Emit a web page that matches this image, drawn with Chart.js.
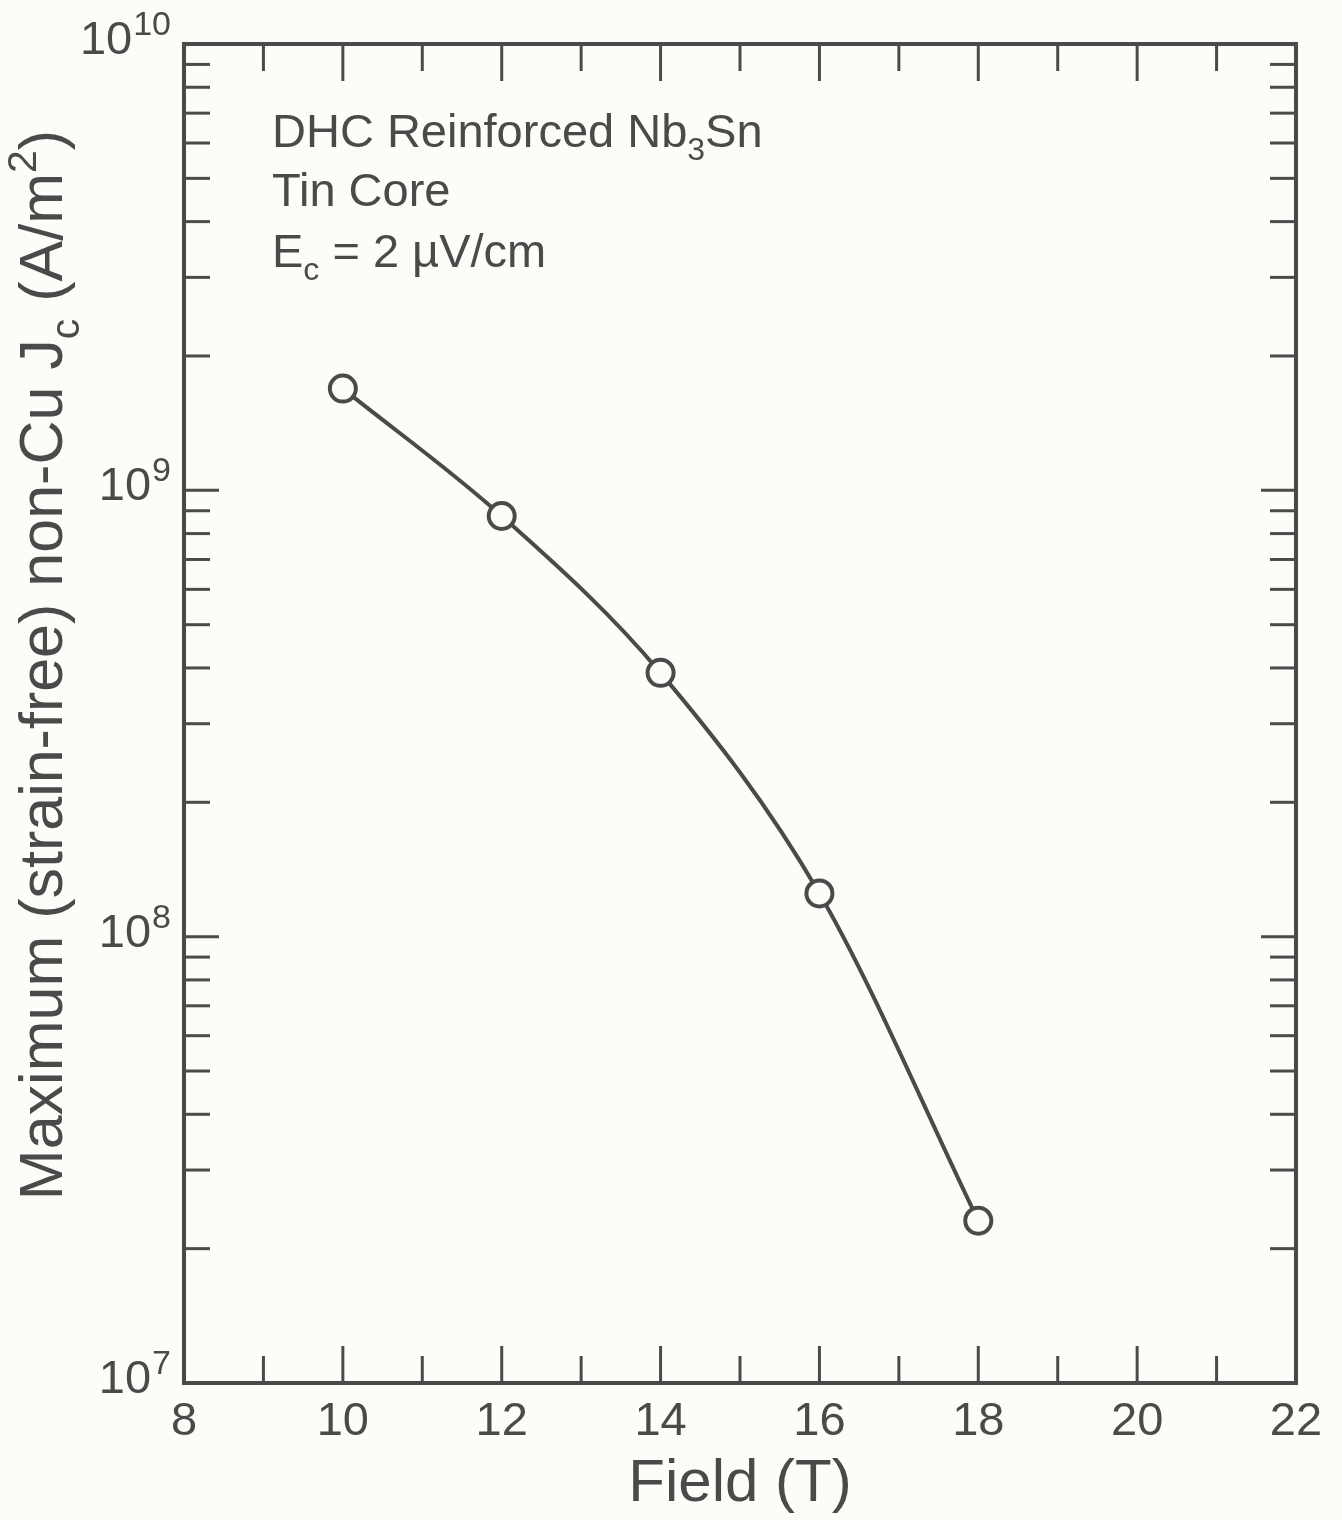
<!DOCTYPE html>
<html>
<head>
<meta charset="utf-8">
<script src="https://cdn.jsdelivr.net/npm/chart.js@4/dist/chart.umd.min.js"></script>
<style>
  body { margin: 0; background: #fcfcf8; }
  #wrap { width: 1342px; height: 1520px; }
</style>
</head>
<body>
<div id="wrap"><canvas id="jcChart" width="1342" height="1520"></canvas></div>
<script>
// Field (T) and max strain-free non-Cu Jc (A/m^2)
const fieldT = [10, 12, 14, 16, 18];
const jcValues = [1.69e9, 8.76e8, 3.90e8, 1.25e8, 2.31e7];

// axis ticks
const xMajor = [8, 10, 12, 14, 16, 18, 20, 22];
const xMinor = [9, 11, 13, 15, 17, 19, 21];
const yExponents = [7, 8, 9, 10];
const yMinorMantissas = [2, 3, 4, 5, 6, 7, 8, 9];

const INK = '#4a4a4a';
const FONT = '"Liberation Sans", Arial, Helvetica, sans-serif';

// frame + inward ticks on all four sides
const framePlugin = {
  id: 'frame',
  beforeDatasetsDraw(chart) {
    const { ctx, chartArea: a, scales: { x, y } } = chart;
    ctx.save();
    ctx.strokeStyle = INK;
    ctx.lineWidth = 3;
    const seg = (x1, y1, x2, y2) => { ctx.beginPath(); ctx.moveTo(x1, y1); ctx.lineTo(x2, y2); ctx.stroke(); };

    xMajor.forEach(v => {
      const px = x.getPixelForValue(v);
      seg(px, a.bottom, px, a.bottom - 37);
      seg(px, a.top, px, a.top + 37);
    });
    xMinor.forEach(v => {
      const px = x.getPixelForValue(v);
      seg(px, a.bottom, px, a.bottom - 27);
      seg(px, a.top, px, a.top + 27);
    });
    yExponents.forEach(e => {
      const py = y.getPixelForValue(Math.pow(10, e));
      seg(a.left, py, a.left + 35, py);
      seg(a.right, py, a.right - 35, py);
      if (e < 10) {
        yMinorMantissas.forEach(m => {
          const pm = y.getPixelForValue(m * Math.pow(10, e));
          seg(a.left, pm, a.left + 26, pm);
          seg(a.right, pm, a.right - 26, pm);
        });
      }
    });

    ctx.lineWidth = 4;
    ctx.strokeRect(a.left, a.top, a.width, a.height);
    ctx.restore();
  },
  afterDraw(chart) {
    const { ctx, scales: { y } } = chart;
    ctx.save();
    ctx.fillStyle = INK;
    ctx.textBaseline = 'alphabetic';

    // y tick labels 10^n
    yExponents.forEach(e => {
      const py = y.getPixelForValue(Math.pow(10, e)) + 10;
      ctx.font = '34px ' + FONT;
      const sup = String(e);
      const supW = ctx.measureText(sup).width;
      ctx.textAlign = 'right';
      ctx.fillText(sup, 171, py - 19);
      ctx.font = '47px ' + FONT;
      ctx.fillText('10', 171 - supW - 1, py);
    });

    // multi-part text helper: parts = [text, 'n'|'sub'|'sup']
    const drawParts = (parts, x0, y0, size, center) => {
      const small = Math.round(size * 0.68);
      const widths = parts.map(([t, k]) => {
        ctx.font = (k === 'n' ? size : small) + 'px ' + FONT;
        return ctx.measureText(t).width;
      });
      const total = widths.reduce((s, w) => s + w, 0);
      let cx = center ? x0 - total / 2 : x0;
      ctx.textAlign = 'left';
      parts.forEach(([t, k], i) => {
        ctx.font = (k === 'n' ? size : small) + 'px ' + FONT;
        let dy = 0;
        if (k === 'sub') dy = size * 0.28;
        if (k === 'sup') dy = -size * 0.42;
        ctx.fillText(t, cx, y0 + dy);
        cx += widths[i];
      });
    };

    // y axis title, rotated
    ctx.save();
    ctx.translate(62, 665);
    ctx.rotate(-Math.PI / 2);
    drawParts([
      ['Maximum (strain-free) non-Cu J', 'n'], ['c', 'sub'],
      [' (A/m', 'n'], ['2', 'sup'], [')', 'n']
    ], 0, 0, 61, true);
    ctx.restore();

    // annotation
    drawParts([['DHC Reinforced Nb', 'n'], ['3', 'sub'], ['Sn', 'n']], 272, 147, 47, false);
    drawParts([['Tin Core', 'n']], 272, 206, 47, false);
    drawParts([['E', 'n'], ['c', 'sub'], [' = 2 \u00b5V/cm', 'n']], 272, 267, 47, false);

    ctx.restore();
  }
};

new Chart(document.getElementById('jcChart'), {
  type: 'line',
  data: {
    datasets: [{
      data: fieldT.map((f, i) => ({ x: f, y: jcValues[i] })),
      borderColor: INK,
      borderWidth: 4,
      cubicInterpolationMode: 'monotone',
      pointRadius: 13,
      pointBorderWidth: 4,
      pointBackgroundColor: '#fcfcf8',
      pointBorderColor: INK,
      fill: false
    }]
  },
  options: {
    responsive: false,
    animation: false,
    layout: { padding: { top: 44, right: 46, left: 0, bottom: 0 } },
    plugins: { legend: { display: false }, tooltip: { enabled: false } },
    scales: {
      x: {
        type: 'linear',
        min: 8,
        max: 22,
        afterFit: s => { s.height = 137; },
        afterBuildTicks: s => { s.ticks = xMajor.map(v => ({ value: v })); },
        grid: { display: false, drawTicks: false },
        border: { display: false },
        ticks: { padding: 11, color: INK, font: { family: FONT, size: 47 } },
        title: {
          display: true,
          text: 'Field (T)',
          color: INK,
          font: { family: FONT, size: 60 },
          padding: { top: 0, bottom: 0 }
        }
      },
      y: {
        type: 'logarithmic',
        min: 1e7,
        max: 1e10,
        afterFit: s => { s.width = 184; },
        grid: { display: false, drawTicks: false },
        border: { display: false },
        ticks: { display: false }
      }
    }
  },
  plugins: [framePlugin]
});
</script>
</body>
</html>
